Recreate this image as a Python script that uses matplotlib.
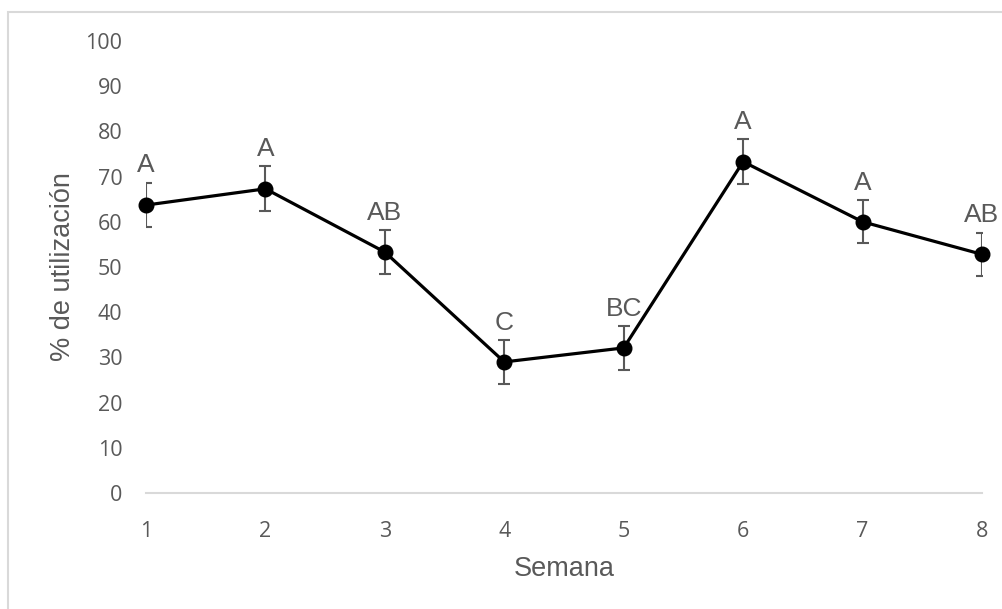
import matplotlib.pyplot as plt
from matplotlib.patches import Rectangle

# datos
semanas = [1, 2, 3, 4, 5, 6, 7, 8]
utilizacion = [63.7, 67.3, 53.3, 29.0, 32.1, 73.3, 60.0, 52.8]
error = [4.9, 5.0, 4.8, 4.8, 4.8, 5.0, 4.8, 4.8]
letras = ["A", "A", "AB", "C", "BC", "A", "A", "AB"]

gris = "#595959"
plt.rcParams['font.family'] = ['Liberation Sans', 'DejaVu Sans']

fig = plt.figure(figsize=(10.03, 6.09), dpi=100)
ax = fig.add_axes([146/1003, 1 - 493/609, (982 - 146)/1003, (493 - 41)/609])

# borde exterior del grafico (sale por la derecha y por abajo)
fig.patches.append(Rectangle((8/1003, -0.05), 1.1, 1 - 12/609 + 0.05,
                             transform=fig.transFigure, fill=False,
                             edgecolor="#d9d9d9", linewidth=1.5))

ax.errorbar(semanas, utilizacion, yerr=error, fmt="none", ecolor=gris,
            elinewidth=1.5, capsize=4.5, capthick=1.5, zorder=2)
ax.plot(semanas, utilizacion, color="black", linewidth=2.3, marker="o",
        markersize=10.5, clip_on=False, zorder=3)

for x, y, e, t in zip(semanas, utilizacion, error, letras):
    ax.annotate(t, (x, y + e), xytext=(0, 4), textcoords="offset points",
                ha="center", va="bottom", fontsize=19, color=gris,
                annotation_clip=False)

ax.set_xlim(1, 8)
ax.set_ylim(0, 100)
ax.set_yticks(range(0, 101, 10))
ax.set_xticks(semanas)
ax.tick_params(length=0, labelsize=15.5, labelcolor=gris, pad=20)
ax.tick_params(axis="y", pad=17)
for lab in ax.get_xticklabels() + ax.get_yticklabels():
    lab.set_family(['Open Sans', 'DejaVu Sans'])

for s in ["top", "right", "left"]:
    ax.spines[s].set_visible(False)
ax.spines["bottom"].set_color("#d9d9d9")
ax.spines["bottom"].set_linewidth(1.5)

ax.set_xlabel("Semana", fontsize=19.5, color=gris)
ax.set_ylabel("% de utilización", fontsize=19.5, color=gris)
ax.xaxis.set_label_coords(0.5, -(569 - 493) / (493 - 41), transform=ax.transAxes)
ax.xaxis.label.set_va("center")
ax.yaxis.set_label_coords(-(146 - 63) / (982 - 146), 0.5, transform=ax.transAxes)
ax.yaxis.label.set_va("center")

fig.savefig("out.png", dpi=100)
